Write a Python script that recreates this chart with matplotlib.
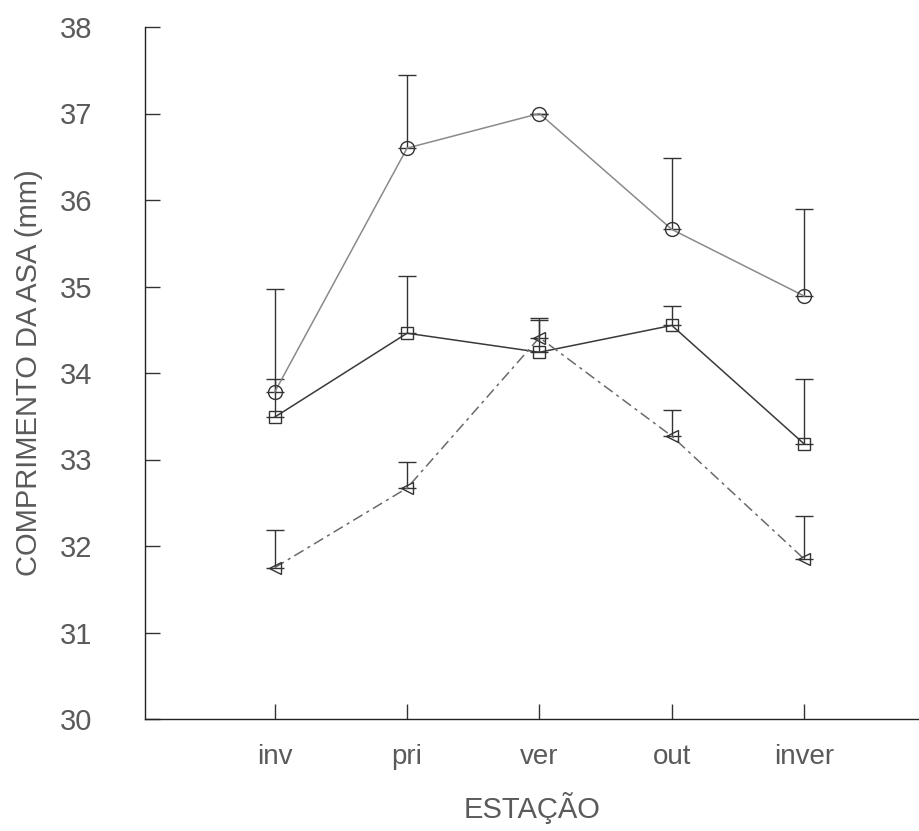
import numpy as np
import matplotlib
matplotlib.use("Agg")
import matplotlib.pyplot as plt

# estações do ano
estacoes = ["inv", "pri", "ver", "out", "inver"]

# comprimento médio da asa (mm) e desvio (só para cima)
circulo = [33.78, 36.60, 37.00, 35.66, 34.89]
circulo_dp = [1.19, 0.85, 0.0, 0.83, 1.01]

quadrado = [33.49, 34.46, 34.24, 34.55, 33.18]
quadrado_dp = [0.44, 0.66, 0.40, 0.23, 0.75]

triangulo = [31.75, 32.67, 34.41, 33.27, 31.85]
triangulo_dp = [0.44, 0.30, 0.20, 0.30, 0.50]

plt.rcParams['font.family'] = ['Liberation Sans', 'DejaVu Sans']

fig = plt.figure(figsize=(9.2, 8.31), dpi=100)
ax = fig.add_axes([145/920, 1 - 719/831, 775/920, 692/831])

x = np.arange(1, len(estacoes) + 1)

series = [
    (circulo, circulo_dp, 'o', '-', '#8a8a8a', 10),
    (quadrado, quadrado_dp, 's', '-', '#3a3a3a', 9),
    (triangulo, triangulo_dp, '<', (0, (7, 3, 2, 3)), '#6a6a6a', 9),
]

for y, dp, mk, ls, cor, ms in series:
    y = np.array(y)
    dp = np.array(dp)
    ax.errorbar(x, y, yerr=[np.zeros_like(dp), dp], fmt='none',
                ecolor='#333333', elinewidth=1.0, capsize=6.5, capthick=1.0,
                zorder=2)
    ax.plot(x, y, linestyle=ls, color=cor, linewidth=1.1, zorder=3)
    ax.plot(x, y, linestyle='none', marker=mk, markersize=ms,
            markerfacecolor='none', markeredgecolor='#333333',
            markeredgewidth=1.0, zorder=4)

ax.set_xlim(0.02, 5.875)
ax.set_ylim(30, 38)
ax.set_xticks(x)
ax.set_xticklabels(estacoes)
ax.set_yticks(np.arange(30, 39, 1))

for lado in ['top', 'right']:
    ax.spines[lado].set_visible(False)
for lado in ['left', 'bottom']:
    ax.spines[lado].set_color('#222222')
    ax.spines[lado].set_linewidth(1.0)

cor_texto = '#5a5a5a'
ax.tick_params(axis='y', direction='in', length=11, width=1.0,
               color='#333333', labelsize=21, labelcolor=cor_texto, pad=38)
ax.tick_params(axis='x', direction='in', length=11, width=1.0,
               color='#333333', labelsize=20, labelcolor=cor_texto, pad=18)

ax.set_xlabel("ESTAÇÃO", fontsize=21, color=cor_texto, labelpad=16)
ax.set_ylabel("COMPRIMENTO DA ASA (mm)", fontsize=21, color=cor_texto,
              labelpad=12)

fig.savefig("out.png", dpi=100)
